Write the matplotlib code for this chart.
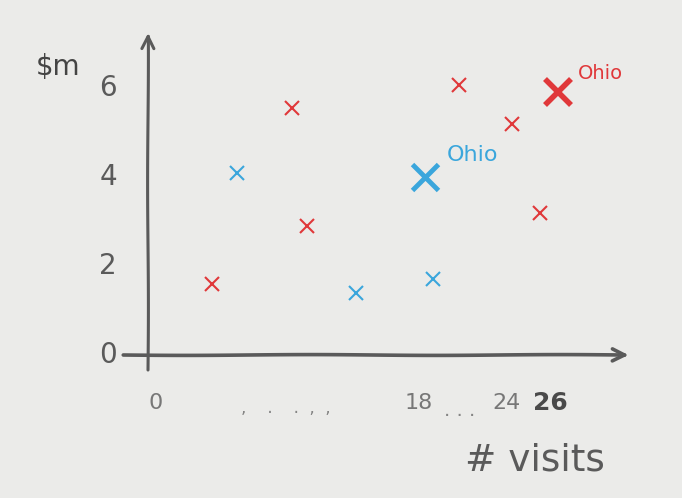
import matplotlib
matplotlib.use('Agg')
import matplotlib.pyplot as plt

# sketch data: campaign visits vs money ($m)
blue_x = [5.8, 13.6, 18.6]
blue_y = [4.1, 1.4, 1.7]
red_x = [4.2, 9.4, 10.4, 20.3, 23.8, 25.6]
red_y = [1.6, 5.55, 2.9, 6.07, 5.2, 3.2]
ohio_blue = (18.1, 4.0)
ohio_red = (26.8, 5.9)

yticks = [0, 2, 4, 6]
xticks = [0, 18, 24, 26]
xtick_labels = ['0', '18', '24', '26']

paper = '#ebebe9'
pencil = '#5a5a5a'
red = '#e0383a'
blue = '#3aa6dc'

fig = plt.figure(figsize=(6.82, 4.98), dpi=100, facecolor=paper)
ax = fig.add_axes([0, 0, 1, 1])
ax.set_facecolor(paper)
# 15.3 px per visit, 44.5 px per $m, origin at pixel (148, 355)
ax.set_xlim(-148 / 15.3, (682 - 148) / 15.3)
ax.set_ylim((355 - 498) / 44.5, 355 / 44.5)
ax.axis('off')

# hand drawn axes
with plt.rc_context({'path.sketch': (0.4, 250, 1.0)}):
    ax.annotate('', xy=(0, 7.3), xytext=(0, -0.4),
                arrowprops=dict(arrowstyle='->', color=pencil, lw=2.2, mutation_scale=22))
    ax.annotate('', xy=(31.6, 0.0), xytext=(-1.8, 0.0),
                arrowprops=dict(arrowstyle='->', color=pencil, lw=2.6, mutation_scale=22))

for t in yticks:
    ax.text(-2.6, t, str(t), color=pencil, fontsize=20, ha='center', va='center')

# the hand lettering sits a little off the true positions
nudge = [0.5, -0.3, -0.6, 0.3]
for t, lab, dx in zip(xticks, xtick_labels, nudge):
    big = t == 26
    ax.text(t + dx, -1.07, lab, color='#4a4a4a' if big else '#777777',
            fontsize=18 if big else 16, ha='center', va='center',
            fontweight='bold' if big else 'normal')
ax.text(9.0, -1.2, ',    .    .  ,  ,', color=pencil, fontsize=12, ha='center', va='center', alpha=0.7)
ax.text(20.4, -1.25, '. . .', color=pencil, fontsize=14, ha='center', va='center', alpha=0.7)

ax.text(-5.9, 6.47, '$m', color='#444444', fontsize=20, ha='center', va='center')
ax.text(25.3, -2.36, '# visits', color=pencil, fontsize=27, ha='center', va='center')

ax.plot(blue_x, blue_y, 'x', color=blue, markersize=10, markeredgewidth=1.5)
ax.plot(red_x, red_y, 'x', color=red, markersize=10, markeredgewidth=1.5)
ax.plot(*ohio_blue, 'x', color=blue, markersize=19, markeredgewidth=3.5)
ax.plot(*ohio_red, 'x', color=red, markersize=19, markeredgewidth=4)
ax.text(ohio_blue[0] + 1.4, ohio_blue[1] + 0.35, 'Ohio', color=blue, fontsize=16)
ax.text(ohio_red[0] + 1.3, ohio_red[1] + 0.3, 'Ohio', color=red, fontsize=14)

fig.savefig('out.png', dpi=100, facecolor=paper)
